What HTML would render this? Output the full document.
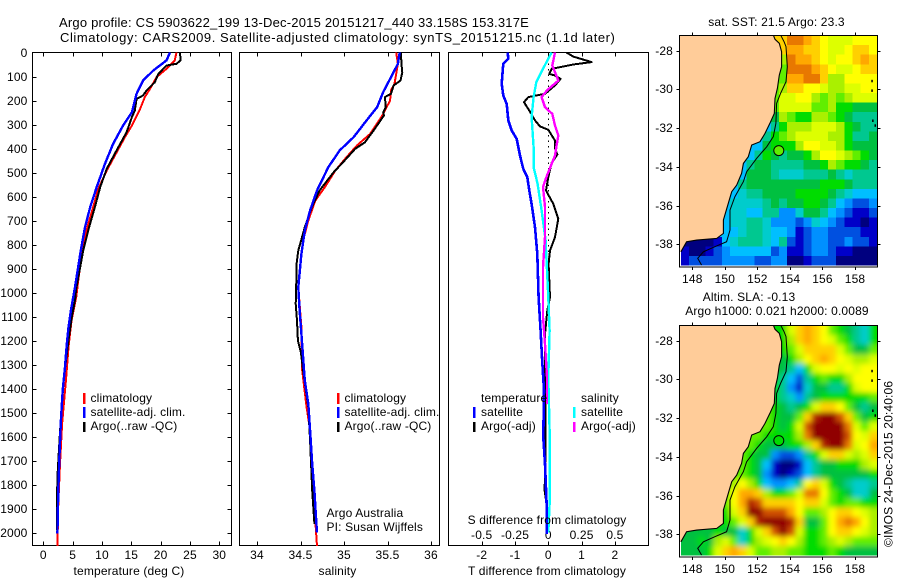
<!DOCTYPE html>
<html lang="en">
<head>
<meta charset="utf-8">
<title>Argo profile 5903622_199</title>
<style>
html,body{margin:0;padding:0;background:#fff;}
svg{display:block;}
text{font-family:"Liberation Sans",sans-serif;font-size:12px;letter-spacing:.15px;fill:#000;}
</style>
</head>
<body>
<svg id="fig" xmlns="http://www.w3.org/2000/svg" width="900" height="580" viewBox="0 0 900 580">
<defs>
<clipPath id="clip-map-top"><rect x="681" y="35.5" width="196" height="230"/></clipPath>
<clipPath id="clip-map-bot"><rect x="681" y="325.5" width="196" height="230"/></clipPath>
<clipPath id="land-top"><rect x="680" y="35.5" width="197" height="231"/></clipPath>
<clipPath id="land-bot"><rect x="680" y="325.5" width="197" height="231"/></clipPath>
<clipPath id="clip-p1"><rect x="32" y="52" width="200" height="494"/></clipPath>
<clipPath id="clip-p2"><rect x="239" y="52" width="201" height="494"/></clipPath>
<clipPath id="clip-p3"><rect x="448" y="52" width="201" height="494"/></clipPath>
<filter id="smooth" filterUnits="userSpaceOnUse" x="640" y="290" width="260" height="290"><feGaussianBlur stdDeviation="2.6"/></filter>
</defs>

<text x="59" y="27" textLength="470" style="font-size:13px">Argo profile: CS 5903622_199 13-Dec-2015 20151217_440 33.158S 153.317E</text>
<text x="60" y="42" textLength="555" style="font-size:13px">Climatology: CARS2009. Satellite-adjusted climatology: synTS_20151215.nc (1.1d later)</text>

<g id="p1"></g>
<g id="p2"></g>
<g id="p3"></g>
<g id="m1"></g>
<g id="m2"></g>

<text x="129" y="575" text-anchor="middle">temperature (deg C)</text>
<text x="337.5" y="575" text-anchor="middle">salinity</text>
<text x="547" y="575" text-anchor="middle">T difference from climatology</text>
<text x="547" y="524" text-anchor="middle">S difference from climatology</text>

<g>
<rect x="83" y="393" width="2.5" height="11" fill="#f00"/>
<rect x="83" y="407" width="2.5" height="11" fill="#00f"/>
<rect x="83" y="422" width="2.5" height="10" fill="#000"/>
<text x="90.5" y="402">climatology</text>
<text x="90.5" y="416">satellite-adj. clim.</text>
<text x="90.5" y="430">Argo(..raw -QC)</text>
</g>
<g>
<rect x="337" y="393" width="2.5" height="11" fill="#f00"/>
<rect x="337" y="407" width="2.5" height="11" fill="#00f"/>
<rect x="337" y="422" width="2.5" height="10" fill="#000"/>
<text x="344.5" y="402">climatology</text>
<text x="344.5" y="416">satellite-adj. clim.</text>
<text x="344.5" y="430">Argo(..raw -QC)</text>
<text x="326.5" y="517">Argo Australia</text>
<text x="326.5" y="531">PI: Susan Wijffels</text>
</g>
<g>
<text x="481" y="402">temperature</text>
<rect x="473" y="407" width="2.5" height="11" fill="#00f"/>
<rect x="473" y="422" width="2.5" height="10" fill="#000"/>
<text x="481" y="416">satellite</text>
<text x="481" y="430">Argo(-adj)</text>
<text x="581" y="402">salinity</text>
<rect x="573" y="407" width="2.5" height="11" fill="#0ff"/>
<rect x="573" y="422" width="2.5" height="10" fill="#f0f"/>
<text x="581" y="416">satellite</text>
<text x="581" y="430">Argo(-adj)</text>
</g>

<text x="776.5" y="26" text-anchor="middle">sat. SST: 21.5 Argo: 23.3</text>
<text x="749" y="301" text-anchor="middle">Altim. SLA: -0.13</text>
<text x="777" y="315" text-anchor="middle">Argo h1000: 0.021 h2000: 0.0089</text>
<text x="0" y="0" transform="translate(892.5,547) rotate(-90)">©IMOS 24-Dec-2015 20:40:06</text>
</svg>

<script>
// ---------- profile data (depth in dbar, values in physical units) ----------
const depthTicks = [0,100,200,300,400,500,600,700,800,900,1000,1100,1200,1300,1400,1500,1600,1700,1800,1900,2000];
const tempTicks = [0,5,10,15,20,25,30];
const salTicks = [34,34.5,35,35.5,36];
const salTickLabels = ['34','34.5','35','35.5','36'];
const tDiffTicks = [-2,-1,0,1,2];
const sDiffTicks = [-0.5,-0.25,0,0.25,0.5];
const sDiffTickLabels = ['-0.5','-0.25','0','0.25','0.5'];

const climTempDepth = [0,33,68,103,151,186,235,304,353,429,492,568,644,728,811,922,1020,1117,1228,1353,1547,1714,1880,2057];
const climTemp = [22.7,22.4,21.0,19.3,18.2,17.3,16.5,15.1,13.9,12.2,10.8,9.4,8.5,7.5,6.8,6.1,5.6,4.8,4.3,3.9,3.2,2.85,2.55,2.4];
const satTempDepth = [0,33,75,117,172,249,304,381,464,561,644,728,825,978,1075,1145,1214,1311,1408,1533,1686,1825,2005];
const satTemp = [21.6,21.0,18.75,17.0,15.9,15.1,13.6,11.9,10.5,9.1,8.0,7.1,6.4,5.4,4.7,4.3,4.0,3.7,3.3,3.0,2.75,2.55,2.4];
const argoTempDepth = [0,33,47,54,89,124,158,179,193,242,269,332,408,485,561,644,728,825,985,1033,1096,1200,1297,1394,1519,1644,1769,1936,1992];
const argoTemp = [23.3,23.4,22.7,21.0,19.6,19.0,17.6,17.0,15.9,15.6,15.1,14.2,12.5,10.8,9.7,8.8,7.8,6.8,5.6,5.4,4.9,4.3,3.8,3.4,3.0,2.7,2.4,2.3,2.3];

const climSalDepth = [0,47,130,158,200,269,339,387,436,492,561,617,700,783,880,978,1144,1325,1478,1575,1769,1950,2057];
const climSal = [35.6,35.62,35.58,35.54,35.53,35.43,35.3,35.15,35.03,34.9,34.78,34.67,34.59,34.53,34.5,34.475,34.51,34.52,34.57,34.61,34.63,34.67,34.69];
const satSalDepth = [0,47,110,165,228,283,353,408,478,575,658,742,839,978,1075,1172,1269,1367,1464,1575,1714,1825,1950,2000];
const satSal = [35.64,35.62,35.53,35.45,35.38,35.26,35.11,34.95,34.82,34.69,34.61,34.55,34.51,34.475,34.49,34.51,34.53,34.55,34.59,34.61,34.635,34.66,34.68,34.69];
const argoSalDepth = [0,47,82,117,137,172,186,228,249,262,325,374,401,457,499,575,644,728,825,880,978,1047,1117,1200,1250,1325,1478,1617,1825,1964];
const argoSal = [35.655,35.66,35.67,35.65,35.57,35.54,35.47,35.48,35.45,35.46,35.34,35.24,35.13,34.99,34.88,34.72,34.63,34.55,34.475,34.455,34.45,34.445,34.46,34.47,34.505,34.53,34.59,34.61,34.635,34.66];

const satTDiffDepth = [0,26,47,75,131,179,214,283,325,360,429,485,519,575,631,728,839,1019,1048,1159,1270,1408,1603,1714,1881,2006];
const satTDiff = [-1.22,-1.2,-1.35,-1.37,-1.4,-1.35,-1.25,-1.2,-1.1,-0.95,-0.85,-0.75,-0.63,-0.57,-0.5,-0.4,-0.33,-0.29,-0.28,-0.23,-0.19,-0.13,-0.15,-0.1,-0.05,-0.05];
const argoTDiffDepth = [0,17,40,50,68,89,96,110,137,172,186,207,242,283,308,322,367,401,425,461,519,575,631,693,769,825,881,1019,1075,1173,1367,1548,1700,1825,1881];
const argoTDiff = [0.55,0.75,1.3,0.75,0.1,0.03,0.2,0.37,0.2,-0.1,-0.6,-0.73,-0.57,-0.4,-0.25,0,0.2,0.2,0.27,0.1,0,-0.07,0.15,0.3,0.2,0.05,0.01,0.05,-0.03,-0.1,-0.1,-0.08,-0.09,-0.11,-0.05];
const satSDiffDepth = [0,68,124,186,269,394,478,547,658,783,1019,1159,1353,1575,1881,2000];
const satSDiff = [0.025,-0.04,-0.09,-0.11,-0.125,-0.11,-0.11,-0.08,-0.05,-0.02,0,0.01,0,0.01,0.01,0];
const argoSDiffDepth = [0,54,82,117,158,186,228,256,304,346,394,429,512,561,644,769,894,1019,1103,1214,1353,1464];
const argoSDiff = [0.05,0.03,0.05,0.075,-0.01,-0.05,-0.025,0.03,0.05,0.075,0.06,0.05,-0.01,-0.04,-0.025,-0.025,-0.04,-0.04,-0.04,-0.025,-0.01,-0.01];
const zeroLineDepth = [0,850];
const zeroLineValue = [0,0];

// ---------- map data (each letter = colour class; '.' = under land) ----------
const sstCells = [
"............npponmlllmmm",
"............noonnmllmnnm",
"............kpoonmlmmnon",
"............jppponmllmnn",
"............jooppnkkmmmm",
"...........jknnmmlkkllmm",
"...........jllmmkjkjklll",
"...........jlllljjkiihhh",
"..........ehkjiikkjihggg",
"..........egikkklllkihgg",
".........egijkllllkkiggh",
"........eehiiikmmllkihhh",
"........egihghhikmmlkjih",
".......eghhgggghhikjiihg",
".......ehhhgfffggghgfggg",
"......eghhhhhhhhhiiihggg",
".....eefgghhhhiiiihgfeee",
".....effffghghhiihgedccd",
".....effeeggddfhhgedcbbc",
".....effggfdddcdfedcbbab",
".....eefggfeedbcddccccbb",
"..aabefgggfegcbcddccdccb",
"baabcdeeeeecdbbcddcbbaaa",
"bccccddddccddaabcccaaaaa"
];
const slaCells = [
"............ilnonmjihgfi",
"............iknonmljigfi",
"............ijlnnnnljhhj",
"............hikmnonmlkkl",
"............hgeilmmlmlmm",
"...........igecgijiikmmm",
"...........igdbfhhggilmm",
"...........igfdghiiiiiij",
"..........jihghilnnmjhgh",
"..........jihhjnrssqnjhi",
".........jjihilqsssspljl",
"........jjiiiikpssssqmln",
"........jihhhiiknrssplmo",
".......jihhdccdgilnnlkln",
".......jihebaabeghhiiikl",
"......jjihdbabceghhhhhhi",
".....jkmkieddegmnlihgffg",
".....jmoonkiijlppmjihffh",
".....jmorqnnnnmnnljijjii",
".....ilnssqqqomjjkmnnmlk",
".....ijlnrsssrnhhjmopomk",
"..hhihhfilnqsqliijmnnmlk",
"hhihkljfiklmnmkiijklkjjj",
"hhhilnonljjkkjjiiijihhhh"
];
const coastLon = [152.98,153.08,153.35,153.49,153.49,153.35,153.23,153.08,153.04,152.77,152.47,152.16,151.65,151.44,151.14,151.03,150.73,150.42,150.21,149.91,149.91,149.5,148.27,147.65,147.3];
const coastLat = [-27.19,-27.41,-27.62,-28.05,-28.83,-29.26,-29.94,-30.46,-31.24,-31.75,-32.27,-32.7,-32.87,-33.47,-33.82,-34.33,-34.94,-35.28,-35.88,-36.74,-37.43,-37.69,-37.78,-37.86,-38.38];
const shelfLon = [153.43,153.64,153.76,153.84,153.76,153.43,153.18,153.14,152.98,152.57,151.95,151.34,151.14,150.62,150.32,150.32,150.11,149.39,148.68,148.33,148.57];
const shelfLat = [-27.19,-27.54,-27.79,-28.83,-29.6,-30.2,-30.72,-31.75,-32.44,-32.96,-33.56,-34.25,-34.76,-35.54,-36.23,-37.26,-37.86,-38.12,-38.38,-38.72,-39.07];
const islandLon = [159.0,159.0,159.05,159.2];
const islandLat = [-29.5,-30.0,-31.55,-31.8];
const lonTicks = [148,150,152,154,156,158];
const latTicks = [-28,-30,-32,-34,-36,-38];
const floatLon = 153.317;
const floatLat = -33.158;

const palette = {a:'#00007f',b:'#0000c8',c:'#0050e0',d:'#0090ff',e:'#00bfff',f:'#00cccc',g:'#00c890',h:'#00c040',i:'#00dc00',j:'#60ee00',k:'#aaf000',l:'#ddff00',m:'#ffff00',n:'#ffd000',o:'#ffa800',p:'#e87800',q:'#d05000',r:'#b02000',s:'#900000'};

// ---------- helpers ----------
const NS = 'http://www.w3.org/2000/svg';
function make(parent, tag, attrs, name, txt){
  const el = document.createElementNS(NS, tag);
  for (const k in attrs) el.setAttribute(k, attrs[k]);
  
  
  if (txt !== undefined) el.textContent = txt;
  parent.appendChild(el);
  return el;
}
const TOP = 52.5, BOTTOM = 545.5;
const yDepth = d => 52.5 + d * 0.24;

function drawFrame(g, left, right, xScale, ticks, labels, labelY, prefix){
  make(g, 'rect', {x:left, y:TOP, width:right-left, height:BOTTOM-TOP, fill:'#fff', stroke:'#000', 'shape-rendering':'crispEdges'}, prefix+'-frame');
  ticks.forEach((t,i)=>{
    const x = Math.round(xScale(t))+0.5;
    make(g, 'line', {x1:x, x2:x, y1:TOP, y2:TOP+4, stroke:'#000','shape-rendering':'crispEdges'}, prefix+'-top-tick');
    make(g, 'line', {x1:x, x2:x, y1:BOTTOM, y2:BOTTOM-4, stroke:'#000','shape-rendering':'crispEdges'}, prefix+'-bottom-tick');
    make(g, 'text', {x:xScale(t), y:labelY, 'text-anchor':'middle'}, prefix+'-tick-label', labels[i]);
  });
}
function drawSeries(g, xs, ds, xScale, color, width, name, clip){
  const pts = xs.map((v,i)=>xScale(v).toFixed(1)+','+yDepth(ds[i]).toFixed(1)).join(' ');
  make(g, 'polyline', {points:pts, fill:'none', stroke:color, 'stroke-width':width, 'clip-path':'url(#'+clip+')','stroke-linejoin':'round','shape-rendering':'crispEdges'}, name);
}

// ---------- panel 1: temperature ----------
const xTemp = v => 43.3 + 5.867 * v;
const p1 = document.getElementById('p1');
drawFrame(p1, 32.5, 231.5, xTemp, tempTicks, tempTicks.map(String), 559, 'temperature');
depthTicks.forEach(d=>{
  const y = Math.round(yDepth(d))+0.5;
  if (d>0) make(p1, 'line', {x1:32.5, x2:36.5, y1:y, y2:y, stroke:'#000','shape-rendering':'crispEdges'}, 'depth-left-tick');
  if (d>0) make(p1, 'line', {x1:227.5, x2:231.5, y1:y, y2:y, stroke:'#000','shape-rendering':'crispEdges'}, 'depth-right-tick');
  make(p1, 'text', {x:27.5, y:y+3.5, 'text-anchor':'end'}, 'depth-tick-label', String(d));
});
drawSeries(p1, climTemp, climTempDepth, xTemp, '#f00', 2, 'temperature-climatology-line', 'clip-p1');
drawSeries(p1, argoTemp, argoTempDepth, xTemp, '#000', 2, 'temperature-argo-line', 'clip-p1');
drawSeries(p1, satTemp, satTempDepth, xTemp, '#00f', 2.4, 'temperature-satellite-line', 'clip-p1');

// ---------- panel 2: salinity ----------
const xSal = v => 257 + 87 * (v - 34);
const p2 = document.getElementById('p2');
drawFrame(p2, 239.5, 439.5, xSal, salTicks, salTickLabels, 559, 'salinity');
drawSeries(p2, climSal, climSalDepth, xSal, '#f00', 2, 'salinity-climatology-line', 'clip-p2');
drawSeries(p2, argoSal, argoSalDepth, xSal, '#000', 2, 'salinity-argo-line', 'clip-p2');
drawSeries(p2, satSal, satSalDepth, xSal, '#00f', 2.4, 'salinity-satellite-line', 'clip-p2');

// ---------- panel 3: differences ----------
const xTDiff = v => 548.3 + 33.3 * v;
const xSDiff = v => 548.3 + 133.2 * v;
const p3 = document.getElementById('p3');
drawFrame(p3, 448.5, 648.5, xTDiff, tDiffTicks, tDiffTicks.map(String), 559, 't-difference');
sDiffTicks.forEach((t,i)=>{
  make(p3, 'text', {x:xSDiff(t), y:539, 'text-anchor':'middle'}, 's-difference-tick-label', sDiffTickLabels[i]);
});
const zeroPts = zeroLineValue.map((v,i)=>xTDiff(v).toFixed(1)+','+yDepth(zeroLineDepth[i]).toFixed(1)).join(' ');
make(p3, 'polyline', {points:zeroPts, fill:'none', stroke:'#000', 'stroke-width':1, 'stroke-dasharray':'1.5 4', 'shape-rendering':'crispEdges'}, 'zero-difference-line');
drawSeries(p3, argoTDiff, argoTDiffDepth, xTDiff, '#000', 2, 't-difference-argo-line', 'clip-p3');
drawSeries(p3, satSDiff, satSDiffDepth, xSDiff, '#0ff', 2.4, 's-difference-satellite-line', 'clip-p3');
drawSeries(p3, argoSDiff, argoSDiffDepth, xSDiff, '#f0f', 2.4, 's-difference-argo-line', 'clip-p3');
drawSeries(p3, satTDiff, satTDiffDepth, xTDiff, '#00f', 2.6, 't-difference-satellite-line', 'clip-p3');

// ---------- maps ----------
function drawMap(g, rows, top, smooth, circleFill, clipData, clipLand, prefix){
  const xLon = v => 692.3 + (v - 148) * 16.27;
  const yLat = v => top + 15.7 + (-28 - v) * 19.37;
  const cellsG = make(g, 'g', {'clip-path':'url(#'+clipData+')'}, prefix+'-cells-clip');
  const inner = make(cellsG, 'g', smooth ? {filter:'url(#smooth)'} : {}, prefix+'-cells');
  const cw = 196/24, ch = 230/24;
  rows.forEach((row,j)=>{
    const first = row.replace(/\./g,'')[0];
    [...row].forEach((c,i)=>{
      const key = c === '.' ? first : c;
      let x = 681 + i*cw, y = top + 0.5 + j*ch, w = cw+0.4, h = ch+0.4;
      if (smooth){
        if (i===0){x-=14;w+=14;}
        if (i===23){w+=14;}
        if (j===0){y-=14;h+=14;}
        if (j===23){h+=14;}
      }
      make(inner, 'rect', {x:x.toFixed(2), y:y.toFixed(2), width:w.toFixed(2), height:h.toFixed(2), fill:palette[key], 'shape-rendering':'crispEdges'}, prefix+'-cell');
    });
  });
  const coastPts = coastLon.map((v,i)=>xLon(v).toFixed(1)+','+yLat(coastLat[i]).toFixed(1));
  const landPts = coastPts.concat([(679).toString()+','+yLat(-38.38).toFixed(1), '679,'+top, xLon(coastLon[0]).toFixed(1)+','+top]).join(' ');
  const landG = make(g, 'g', {'clip-path':'url(#'+clipLand+')'}, prefix+'-overlay');
  make(landG, 'polygon', {points:landPts, fill:'#ffcc99'}, prefix+'-land');
  make(landG, 'polyline', {points:coastPts.join(' '), fill:'none', stroke:'#000', 'stroke-width':1.1}, prefix+'-coastline');
  const shelfPts = shelfLon.map((v,i)=>xLon(v).toFixed(1)+','+yLat(shelfLat[i]).toFixed(1)).join(' ');
  make(landG, 'polyline', {points:shelfPts, fill:'none', stroke:'#000', 'stroke-width':1}, prefix+'-shelf-contour');
  islandLon.forEach((v,i)=>{
    make(landG, 'rect', {x:xLon(v).toFixed(1), y:yLat(islandLat[i]).toFixed(1), width:1.5, height:2.5, fill:'#000'}, prefix+'-island');
  });
  make(g, 'circle', {cx:xLon(floatLon).toFixed(1), cy:yLat(floatLat).toFixed(1), r:5, fill:circleFill, stroke:'#000', 'stroke-width':1}, prefix+'-float-marker');
  make(g, 'rect', {x:679.5, y:top+0.5, width:198, height:231.5, fill:'none', stroke:'#000', 'shape-rendering':'crispEdges'}, prefix+'-frame');
  lonTicks.forEach(t=>{
    const x = Math.round(xLon(t))+0.5;
    make(g, 'line', {x1:x, x2:x, y1:top-2.5, y2:top+0.5, stroke:'#000','shape-rendering':'crispEdges'}, prefix+'-lon-top-tick');
    make(g, 'line', {x1:x, x2:x, y1:top+232, y2:top+235, stroke:'#000','shape-rendering':'crispEdges'}, prefix+'-lon-bottom-tick');
    make(g, 'text', {x:xLon(t), y:top+248, 'text-anchor':'middle'}, prefix+'-lon-label', String(t));
  });
  latTicks.forEach(t=>{
    const y = Math.round(yLat(t))+0.5;
    make(g, 'line', {x1:676.5, x2:679.5, y1:y, y2:y, stroke:'#000','shape-rendering':'crispEdges'}, prefix+'-lat-left-tick');
    make(g, 'line', {x1:877.5, x2:880.5, y1:y, y2:y, stroke:'#000','shape-rendering':'crispEdges'}, prefix+'-lat-right-tick');
    make(g, 'text', {x:673, y:y+3.5, 'text-anchor':'end'}, prefix+'-lat-label', String(t));
  });
}
drawMap(document.getElementById('m1'), sstCells, 35, false, '#60ee00', 'clip-map-top', 'land-top', 'sst');
drawMap(document.getElementById('m2'), slaCells, 325, true, '#00dc00', 'clip-map-bot', 'land-bot', 'sla');
</script>
</body>
</html>
